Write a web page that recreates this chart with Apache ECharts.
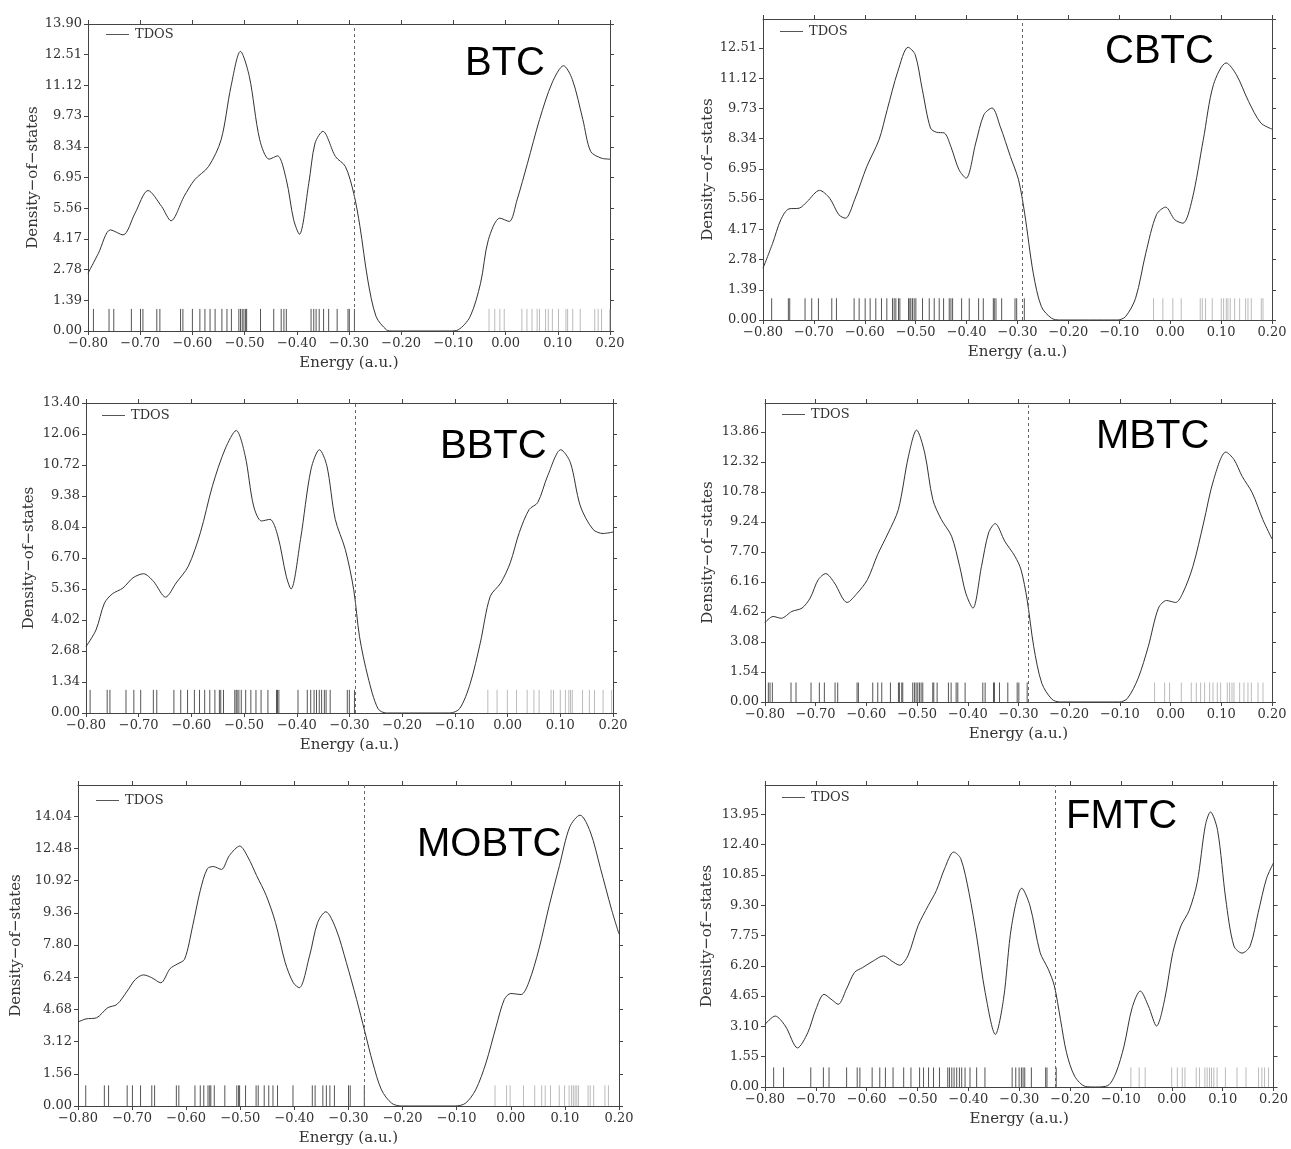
<!DOCTYPE html>
<html>
<head>
<meta charset="utf-8">
<script src="https://cdn.jsdelivr.net/npm/echarts@6/dist/echarts.min.js"></script>
<style>
  html, body { margin: 0; padding: 0; background: #fff; }
  #chart { width: 1291px; height: 1149px; }
</style>
</head>
<body>
<div id="chart"></div>
<script>
// ---- Total density of states curves: [energy (a.u.), DOS] ----
const btcCurve = [[-0.800,2.61],[-0.780,3.52],[-0.757,4.58],[-0.733,4.35],[-0.710,5.33],[-0.685,6.36],[-0.659,5.64],[-0.641,4.99],[-0.616,6.09],[-0.596,6.84],[-0.569,7.45],[-0.545,8.66],[-0.526,11.08],[-0.508,12.66],[-0.491,11.53],[-0.471,8.66],[-0.453,7.78],[-0.437,7.93],[-0.420,6.84],[-0.406,5.03],[-0.395,4.38],[-0.377,6.69],[-0.365,8.51],[-0.350,9.04],[-0.326,7.90],[-0.307,7.45],[-0.291,6.24],[-0.279,4.73],[-0.264,2.31],[-0.248,0.65],[-0.228,0.05],[-0.217,0],[-0.107,0],[-0.091,0.05],[-0.068,0.65],[-0.048,2.16],[-0.033,4.13],[-0.011,5.11],[0.007,4.96],[0.022,5.94],[0.042,7.60],[0.065,9.57],[0.089,11.23],[0.111,12.01],[0.128,11.38],[0.148,9.57],[0.163,8.13],[0.183,7.83],[0.200,7.78]];
const cbtcCurve = [[-0.800,2.38],[-0.781,3.53],[-0.765,4.61],[-0.749,5.11],[-0.729,5.14],[-0.713,5.45],[-0.689,5.96],[-0.669,5.60],[-0.651,4.84],[-0.638,4.68],[-0.620,5.53],[-0.596,7.06],[-0.572,8.29],[-0.556,9.67],[-0.535,11.44],[-0.515,12.54],[-0.501,12.20],[-0.487,10.59],[-0.471,8.83],[-0.459,8.63],[-0.444,8.60],[-0.431,7.98],[-0.415,6.91],[-0.401,6.52],[-0.382,8.14],[-0.366,9.44],[-0.350,9.75],[-0.334,8.90],[-0.314,7.52],[-0.298,6.45],[-0.286,4.91],[-0.269,2.15],[-0.253,0.61],[-0.233,0.08],[-0.217,0],[-0.104,0],[-0.088,0.15],[-0.068,1.00],[-0.048,3.07],[-0.027,4.84],[-0.009,5.19],[0.009,4.61],[0.025,4.45],[0.043,5.53],[0.065,8.29],[0.085,10.82],[0.110,11.82],[0.130,11.28],[0.154,10.05],[0.178,9.06],[0.200,8.78]];
const bbtcCurve = [[-0.800,2.87],[-0.781,3.59],[-0.765,4.75],[-0.750,5.15],[-0.730,5.40],[-0.711,5.84],[-0.691,6.02],[-0.672,5.69],[-0.649,5.01],[-0.629,5.62],[-0.606,6.34],[-0.583,7.79],[-0.560,9.82],[-0.536,11.41],[-0.515,12.21],[-0.498,11.12],[-0.482,8.95],[-0.467,8.30],[-0.451,8.37],[-0.436,7.65],[-0.420,5.91],[-0.411,5.36],[-0.393,7.50],[-0.373,10.54],[-0.357,11.38],[-0.343,10.69],[-0.327,8.37],[-0.308,7.07],[-0.292,5.33],[-0.281,3.30],[-0.265,1.56],[-0.246,0.19],[-0.230,0],[-0.110,0],[-0.091,0.19],[-0.071,1.27],[-0.052,3.01],[-0.033,5.04],[-0.013,5.62],[0.005,6.49],[0.022,7.79],[0.041,8.80],[0.057,9.09],[0.076,10.25],[0.101,11.38],[0.119,10.83],[0.138,8.95],[0.162,7.94],[0.181,7.76],[0.200,7.82]];
const mbtcCurve = [[-0.800,4.08],[-0.784,4.39],[-0.768,4.30],[-0.747,4.65],[-0.727,4.82],[-0.711,5.33],[-0.695,6.28],[-0.680,6.59],[-0.663,6.11],[-0.638,5.11],[-0.618,5.59],[-0.598,6.28],[-0.578,7.56],[-0.557,8.68],[-0.537,9.88],[-0.517,12.62],[-0.501,13.96],[-0.485,12.79],[-0.469,10.39],[-0.452,9.36],[-0.432,8.51],[-0.416,6.96],[-0.404,5.59],[-0.390,4.82],[-0.373,6.96],[-0.359,8.68],[-0.346,9.16],[-0.327,8.25],[-0.307,7.48],[-0.295,6.79],[-0.283,5.25],[-0.270,2.85],[-0.254,0.96],[-0.234,0.14],[-0.218,0],[-0.101,0],[-0.085,0.19],[-0.064,1.22],[-0.044,2.85],[-0.024,4.82],[-0.008,5.21],[0.010,5.11],[0.024,5.59],[0.044,6.96],[0.065,9.19],[0.085,11.42],[0.109,12.83],[0.125,12.45],[0.141,11.59],[0.161,10.74],[0.182,9.36],[0.200,8.37]];
const mobtcCurve = [[-0.800,4.07],[-0.785,4.22],[-0.766,4.27],[-0.745,4.76],[-0.728,4.92],[-0.709,5.57],[-0.694,6.13],[-0.679,6.35],[-0.664,6.22],[-0.647,5.97],[-0.630,6.65],[-0.617,6.87],[-0.603,7.11],[-0.588,8.73],[-0.574,10.44],[-0.561,11.49],[-0.550,11.60],[-0.535,11.46],[-0.520,12.14],[-0.501,12.59],[-0.486,12.06],[-0.470,11.17],[-0.452,10.19],[-0.435,8.89],[-0.417,6.95],[-0.402,5.97],[-0.391,5.73],[-0.372,7.27],[-0.357,8.89],[-0.342,9.41],[-0.323,8.57],[-0.304,6.95],[-0.285,5.16],[-0.270,3.62],[-0.255,2.08],[-0.239,0.78],[-0.220,0.13],[-0.202,0],[-0.103,0],[-0.084,0.13],[-0.065,0.78],[-0.046,2.08],[-0.027,3.86],[-0.012,5.16],[0.000,5.45],[0.019,5.40],[0.033,5.97],[0.052,7.60],[0.071,9.71],[0.090,11.65],[0.109,13.52],[0.128,14.09],[0.147,13.28],[0.166,11.49],[0.186,9.54],[0.200,8.33]];
const fmtcCurve = [[-0.800,3.20],[-0.780,3.63],[-0.760,3.12],[-0.736,2.00],[-0.716,2.77],[-0.700,3.97],[-0.684,4.74],[-0.668,4.45],[-0.656,4.23],[-0.640,5.00],[-0.624,5.86],[-0.608,6.11],[-0.587,6.45],[-0.567,6.71],[-0.551,6.45],[-0.535,6.23],[-0.519,6.71],[-0.499,8.25],[-0.479,9.28],[-0.463,10.05],[-0.447,11.16],[-0.429,12.02],[-0.415,11.68],[-0.399,9.96],[-0.383,7.57],[-0.367,4.83],[-0.347,2.69],[-0.331,4.49],[-0.315,8.25],[-0.295,10.17],[-0.279,9.28],[-0.259,6.88],[-0.243,6.03],[-0.231,5.17],[-0.219,3.46],[-0.207,1.75],[-0.191,0.55],[-0.170,0.03],[-0.150,0],[-0.126,0.07],[-0.110,0.72],[-0.094,2.09],[-0.078,4.06],[-0.062,4.91],[-0.046,4.14],[-0.030,3.12],[-0.014,4.49],[0.002,6.88],[0.018,8.25],[0.034,9.02],[0.050,10.48],[0.066,13.39],[0.076,14.07],[0.090,13.13],[0.106,9.62],[0.122,7.22],[0.138,6.85],[0.154,7.22],[0.170,8.94],[0.186,10.65],[0.200,11.47]];

// ---- Occupied orbital energies (a.u.); the last one is the HOMO ----
const btcOcc = [-0.7896,-0.7597,-0.7506,-0.7169,-0.6994,-0.6948,-0.6682,-0.6623,-0.6227,-0.6182,-0.6000,-0.5857,-0.5760,-0.5662,-0.5565,-0.5435,-0.5338,-0.5253,-0.5110,-0.5078,-0.5045,-0.5013,-0.4981,-0.4961,-0.4695,-0.4442,-0.4299,-0.4247,-0.4201,-0.3727,-0.3675,-0.3630,-0.3571,-0.3487,-0.3390,-0.3227,-0.3019,-0.2994,-0.2896];
const cbtcOcc = [-0.7830,-0.7502,-0.7475,-0.7174,-0.7043,-0.6911,-0.6649,-0.6557,-0.6210,-0.6111,-0.5993,-0.5895,-0.5784,-0.5672,-0.5567,-0.5456,-0.5423,-0.5390,-0.5338,-0.5311,-0.5141,-0.5115,-0.5095,-0.5062,-0.5030,-0.4997,-0.4866,-0.4734,-0.4636,-0.4538,-0.4452,-0.4341,-0.4308,-0.4275,-0.4098,-0.3948,-0.3764,-0.3672,-0.3475,-0.3456,-0.3423,-0.3311,-0.3049,-0.3016,-0.2866];
const bbtcOcc = [-0.7922,-0.7598,-0.7546,-0.7241,-0.7092,-0.6962,-0.6722,-0.6657,-0.6332,-0.6202,-0.6073,-0.5943,-0.5846,-0.5748,-0.5651,-0.5554,-0.5469,-0.5443,-0.5391,-0.5177,-0.5151,-0.5132,-0.5099,-0.5054,-0.4970,-0.4872,-0.4775,-0.4678,-0.4548,-0.4385,-0.4366,-0.4340,-0.3977,-0.3801,-0.3736,-0.3672,-0.3626,-0.3574,-0.3529,-0.3477,-0.3444,-0.3367,-0.3042,-0.3003,-0.2906];
const mbtcOcc = [-0.7934,-0.7901,-0.7855,-0.7487,-0.7388,-0.7092,-0.6928,-0.6829,-0.6618,-0.6566,-0.6184,-0.6158,-0.5875,-0.5776,-0.5697,-0.5526,-0.5368,-0.5349,-0.5303,-0.5283,-0.5086,-0.5053,-0.5020,-0.4987,-0.4954,-0.4921,-0.4888,-0.4691,-0.4671,-0.4605,-0.4382,-0.4329,-0.4230,-0.4197,-0.4053,-0.3704,-0.3658,-0.3493,-0.3474,-0.3375,-0.3211,-0.3026,-0.2993,-0.2829];
const mobtcOcc = [-0.7857,-0.7513,-0.7435,-0.7091,-0.6994,-0.6844,-0.6636,-0.6584,-0.6182,-0.6136,-0.5838,-0.5740,-0.5675,-0.5597,-0.5565,-0.5545,-0.5481,-0.5286,-0.5065,-0.5032,-0.5013,-0.4903,-0.4708,-0.4669,-0.4558,-0.4474,-0.4396,-0.4312,-0.4026,-0.3669,-0.3617,-0.3474,-0.3409,-0.3344,-0.3260,-0.3000,-0.2968,-0.2708];
const fmtcOcc = [-0.7830,-0.7635,-0.7100,-0.6852,-0.6741,-0.6395,-0.6187,-0.6134,-0.5893,-0.5743,-0.5632,-0.5482,-0.5273,-0.5130,-0.4960,-0.4882,-0.4784,-0.4686,-0.4569,-0.4406,-0.4373,-0.4327,-0.4282,-0.4230,-0.4177,-0.4132,-0.4066,-0.3969,-0.3838,-0.3675,-0.3140,-0.3069,-0.3003,-0.2958,-0.2925,-0.2892,-0.2762,-0.2481,-0.2455,-0.2273];

// ---- Virtual orbital energies (a.u.) ----
const btcVir = [-0.0318,-0.0208,-0.0110,-0.0026,0.0312,0.0409,0.0506,0.0604,0.0649,0.0766,0.0818,0.0896,0.1013,0.1156,0.1188,0.1286,0.1429,0.1708,0.1773,0.1838,0.1995];
const cbtcVir = [-0.0328,-0.0144,0.0052,0.0216,0.0590,0.0630,0.0695,0.0826,0.1003,0.1049,0.1102,0.1134,0.1180,0.1266,0.1364,0.1482,0.1528,0.1593,0.1790,0.1823];
const bbtcVir = [-0.0375,-0.0200,-0.0005,0.0170,0.0371,0.0500,0.0598,0.0825,0.0871,0.1000,0.1097,0.1162,0.1195,0.1227,0.1422,0.1552,0.1649,0.1812,0.1974];
const mbtcVir = [-0.0316,-0.0118,-0.0020,0.0211,0.0408,0.0507,0.0592,0.0671,0.0770,0.0836,0.0921,0.0987,0.1118,0.1164,0.1211,0.1250,0.1362,0.1447,0.1526,0.1592,0.1724,0.1822];
const mobtcVir = [-0.0292,-0.0078,-0.0013,0.0234,0.0442,0.0571,0.0636,0.0734,0.0896,0.0994,0.1078,0.1123,0.1156,0.1188,0.1221,0.1253,0.1429,0.1468,0.1532,0.1740,0.1805];
const fmtcVir = [-0.0805,-0.0642,-0.0524,-0.0003,0.0108,0.0206,0.0258,0.0480,0.0545,0.0650,0.0695,0.0741,0.0780,0.0826,0.0890,0.1054,0.1282,0.1459,0.1706,0.1771,0.1824,0.1902];

// ---- Axis settings ----
const energyRange = [-0.80, 0.20];
const energyStep = 0.10;
const yMaxes = [13.90, 13.84, 13.40, 15.35, 15.55, 15.45];
const ySteps = [1.39, 1.39, 1.34, 1.54, 1.56, 1.55];
const systemNames = ['BTC', 'CBTC', 'BBTC', 'MBTC', 'MOBTC', 'FMTC'];

// height (in DOS units) of the orbital stick marks
const STICK_HEIGHT = 1.0;

const curves = [btcCurve, cbtcCurve, bbtcCurve, mbtcCurve, mobtcCurve, fmtcCurve];
const occupied = [btcOcc, cbtcOcc, bbtcOcc, mbtcOcc, mobtcOcc, fmtcOcc];
const virtuals = [btcVir, cbtcVir, bbtcVir, mbtcVir, mobtcVir, fmtcVir];

// panel layout: plot box, y-name gap, legend and label placement
const layout = [
  { left: 88,  top: 24,  width: 522, height: 307, nameGap: 47, legend: [106, 28],  label: [465, 44] },
  { left: 763, top: 19,  width: 509, height: 301, nameGap: 47, legend: [780, 25],  label: [1105, 32] },
  { left: 86,  top: 403, width: 527, height: 310, nameGap: 49, legend: [102, 409], label: [440, 427] },
  { left: 765, top: 403, width: 507, height: 299, nameGap: 49, legend: [782, 408], label: [1096, 417] },
  { left: 78,  top: 785, width: 541, height: 321, nameGap: 54, legend: [96, 794],  label: [417, 825] },
  { left: 765, top: 785, width: 511, height: 302, nameGap: 50, legend: [782, 791], label: [1066, 797] }
];

const SERIF = 'DejaVu Serif';
const AXIS_COLOR = '#444';
const TEXT_COLOR = '#333';

function fmt(v) {
  if (Math.abs(v) < 1e-9) v = 0;
  return v.toFixed(2).replace('-', '\u2212');
}

const grid = [], xAxis = [], yAxis = [], series = [], legend = [], title = [];

layout.forEach((L, i) => {
  grid.push({ left: L.left, top: L.top, width: L.width, height: L.height, show: false });

  const tickStyle = { show: true, inside: false, length: 4, lineStyle: { color: AXIS_COLOR, width: 1 } };
  const lineStyle = { show: true, onZero: false, lineStyle: { color: AXIS_COLOR, width: 1 } };

  xAxis.push({
    gridIndex: i, type: 'value', position: 'bottom',
    min: energyRange[0], max: energyRange[1], interval: energyStep,
    axisLine: lineStyle, axisTick: tickStyle, splitLine: { show: false },
    axisLabel: { formatter: fmt, fontFamily: SERIF, fontSize: 13, color: TEXT_COLOR, margin: 6 },
    name: 'Energy (a.u.)', nameLocation: 'middle', nameGap: 25,
    nameTextStyle: { fontFamily: SERIF, fontSize: 15, color: TEXT_COLOR }
  });
  xAxis.push({
    gridIndex: i, type: 'value', position: 'top',
    min: energyRange[0], max: energyRange[1], interval: energyStep,
    axisLine: lineStyle, axisTick: tickStyle, splitLine: { show: false },
    axisLabel: { show: false }
  });

  const showTop = Math.abs(yMaxes[i] / ySteps[i] - Math.round(yMaxes[i] / ySteps[i])) < 1e-6;
  yAxis.push({
    gridIndex: i, type: 'value', position: 'left',
    min: 0, max: yMaxes[i], interval: ySteps[i],
    axisLine: lineStyle, axisTick: tickStyle, splitLine: { show: false },
    axisLabel: { formatter: fmt, fontFamily: SERIF, fontSize: 13, color: TEXT_COLOR, margin: 6, showMaxLabel: showTop },
    name: 'Density\u2212of\u2212states', nameLocation: 'middle', nameRotate: 90, nameGap: L.nameGap,
    nameTextStyle: { fontFamily: SERIF, fontSize: 15, color: TEXT_COLOR }
  });
  yAxis.push({
    gridIndex: i, type: 'value', position: 'right',
    min: 0, max: yMaxes[i], interval: ySteps[i],
    axisLine: lineStyle, axisTick: tickStyle, splitLine: { show: false },
    axisLabel: { show: false }
  });

  const homo = Math.max.apply(null, occupied[i]);

  series.push({
    name: 'TDOS', type: 'line', xAxisIndex: 2 * i, yAxisIndex: 2 * i,
    data: curves[i], smooth: 0.3, symbol: 'none', showSymbol: false,
    lineStyle: { color: '#333', width: 1 }, itemStyle: { color: '#333' },
    markLine: {
      silent: true, symbol: ['none', 'none'], label: { show: false },
      lineStyle: { type: [3, 3], color: '#666', width: 1 },
      data: [{ xAxis: homo }]
    },
    z: 3
  });

  const stick = (color) => (params, api) => {
    const p0 = api.coord([api.value(0), 0]);
    const p1 = api.coord([api.value(0), api.value(1)]);
    return { type: 'line', shape: { x1: p0[0], y1: p0[1], x2: p1[0], y2: p1[1] }, style: { stroke: color, lineWidth: 1 } };
  };
  series.push({
    name: 'occupied', type: 'custom', xAxisIndex: 2 * i, yAxisIndex: 2 * i,
    data: occupied[i].map(e => [e, STICK_HEIGHT]), renderItem: stick('#555'), silent: true, z: 2
  });
  series.push({
    name: 'virtual', type: 'custom', xAxisIndex: 2 * i, yAxisIndex: 2 * i,
    data: virtuals[i].map(e => [e, STICK_HEIGHT]), renderItem: stick('#bbb'), silent: true, z: 2
  });

  legend.push({
    data: [{ name: 'TDOS', icon: 'rect' }], left: L.legend[0], top: L.legend[1], padding: 0,
    itemWidth: 23, itemHeight: 1, itemGap: 6, selectedMode: false,
    itemStyle: { color: '#555', borderWidth: 0 },
    textStyle: { fontFamily: SERIF, fontSize: 13, color: TEXT_COLOR, padding: [0, 0, 0, 1] }
  });

  title.push({
    text: systemNames[i], left: L.label[0], top: L.label[1], padding: 0,
    textStyle: { fontFamily: 'Liberation Sans', fontSize: 40, fontWeight: 'normal', color: '#000' }
  });
});

const chart = echarts.init(document.getElementById('chart'), null, { renderer: 'canvas' });
chart.setOption({
  animation: false,
  backgroundColor: '#fff',
  title, legend, grid, xAxis, yAxis, series
});
</script>
</body>
</html>
